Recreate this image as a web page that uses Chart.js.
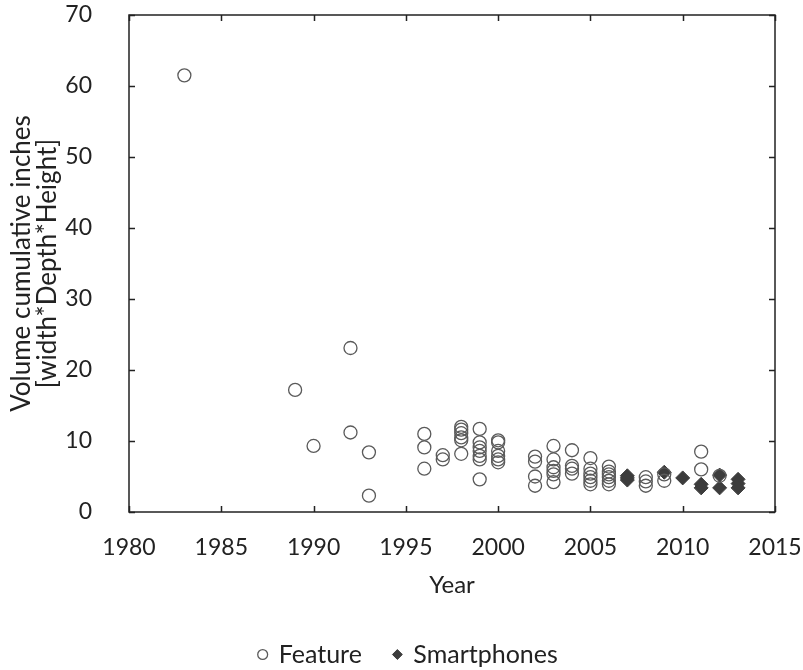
<!DOCTYPE html>
<html>
<head>
<meta charset="utf-8">
<script src="https://cdn.jsdelivr.net/npm/chart.js@4"></script>
<style>
  html, body { margin: 0; padding: 0; background: #fff; }
  #wrap { width: 803px; height: 670px; }
</style>
</head>
<body>
<div id="wrap"><canvas id="chart" width="803" height="670"></canvas></div>
<script>
// values
const featureYears = [1983, 1989, 1990, 1992, 1992, 1993, 1993,
  1996, 1996, 1996, 1997, 1997,
  1998, 1998, 1998, 1998, 1998, 1998,
  1999, 1999, 1999, 1999, 1999, 1999, 1999,
  2000, 2000, 2000, 2000, 2000, 2000,
  2002, 2002, 2002, 2002,
  2003, 2003, 2003, 2003, 2003, 2003,
  2004, 2004, 2004, 2004,
  2005, 2005, 2005, 2005, 2005, 2005,
  2006, 2006, 2006, 2006, 2006, 2006,
  2008, 2008, 2008, 2009, 2009, 2011, 2011, 2012];
const featureVolumes = [61.5, 17.2, 9.3, 23.1, 11.2, 8.4, 2.3,
  11.0, 9.1, 6.1, 8.0, 7.4,
  12.0, 11.6, 11.1, 10.5, 10.1, 8.2,
  11.7, 9.8, 9.1, 8.6, 7.9, 7.4, 4.6,
  10.1, 9.8, 8.6, 7.9, 7.4, 7.0,
  7.8, 7.1, 5.0, 3.7,
  9.3, 7.4, 6.3, 5.8, 5.3, 4.2,
  8.7, 6.5, 6.1, 5.4,
  7.6, 6.1, 5.4, 4.9, 4.4, 3.9,
  6.4, 5.7, 5.3, 4.9, 4.4, 3.9,
  4.9, 4.3, 3.7, 5.3, 4.4, 8.5, 6.0, 5.1];

const smartYears = [2007, 2007, 2007, 2009, 2010, 2011, 2011, 2012, 2012, 2013, 2013, 2013];
const smartVolumes = [5.1, 4.8, 4.5, 5.6, 4.8, 3.9, 3.4, 5.2, 3.4, 4.6, 4.0, 3.4];

const xTicks = [1980, 1985, 1990, 1995, 2000, 2005, 2010, 2015];
const yTicks = [0, 10, 20, 30, 40, 50, 60, 70];

const toPoints = (xs, ys) => xs.map((x, i) => ({ x: x, y: ys[i] }));

// box around the plot with short ticks pointing inward on all four sides
const boxTicks = {
  id: 'boxTicks',
  afterDraw(chart) {
    const { ctx, chartArea: a, scales } = chart;
    const len = 6;
    ctx.save();
    ctx.strokeStyle = '#222';
    ctx.lineWidth = 1.5;
    ctx.strokeRect(a.left, a.top, a.right - a.left, a.bottom - a.top);
    ctx.beginPath();
    xTicks.forEach(v => {
      const px = Math.round(scales.x.getPixelForValue(v)) + 0.5;
      ctx.moveTo(px, a.bottom); ctx.lineTo(px, a.bottom - len);
      ctx.moveTo(px, a.top); ctx.lineTo(px, a.top + len);
    });
    yTicks.forEach(v => {
      const py = Math.round(scales.y.getPixelForValue(v)) + 0.5;
      ctx.moveTo(a.left, py); ctx.lineTo(a.left + len, py);
      ctx.moveTo(a.right, py); ctx.lineTo(a.right - len, py);
    });
    ctx.stroke();
    ctx.restore();
  }
};

Chart.defaults.font.family = 'Lato, "Open Sans", sans-serif';
Chart.defaults.color = '#222';

new Chart(document.getElementById('chart'), {
  type: 'scatter',
  data: {
    datasets: [{
      label: 'Feature',
      data: toPoints(featureYears, featureVolumes),
      pointStyle: 'circle',
      pointRadius: 6.5,
      borderWidth: 1.3,
      borderColor: '#5a5a5a',
      backgroundColor: 'rgba(255,255,255,0)'
    }, {
      label: 'Smartphones',
      data: toPoints(smartYears, smartVolumes),
      pointStyle: 'rectRot',
      pointRadius: 7,
      borderWidth: 1,
      borderColor: '#3c3c3c',
      backgroundColor: '#3c3c3c'
    }]
  },
  options: {
    responsive: false,
    animation: false,
    layout: { padding: { top: 15, right: 0, left: 14, bottom: -7 } },
    plugins: {
      tooltip: { enabled: false },
      legend: {
        position: 'bottom',
        labels: {
          usePointStyle: true,
          boxWidth: 7,
          boxHeight: 7,
          padding: 32,
          font: { size: 25 },
          color: '#222'
        }
      }
    },
    scales: {
      x: {
        type: 'linear',
        min: 1980,
        max: 2015,
        afterBuildTicks: s => { s.ticks = xTicks.map(v => ({ value: v })); },
        grid: { display: false, drawTicks: false },
        border: { display: false },
        ticks: { padding: 22, font: { size: 23 }, color: '#222', callback: v => String(v) },
        title: { display: true, text: 'Year', font: { size: 24 }, color: '#222', padding: { top: 0, bottom: 10 } },
        afterFit: s => {
          s.height = 98;
          s.paddingLeft = 0;
          s.paddingRight = 28;
        }
      },
      y: {
        min: 0,
        max: 70,
        afterBuildTicks: s => { s.ticks = yTicks.map(v => ({ value: v })); },
        grid: { display: false, drawTicks: false },
        border: { display: false },
        ticks: { padding: 37, font: { size: 23 }, color: '#222' },
        title: {
          display: true,
          text: ['Volume cumulative inches', '[width*Depth*Height]'],
          font: { size: 26, lineHeight: 1.0 },
          color: '#222',
          padding: { top: -5, bottom: 0 }
        },
        afterFit: s => {
          s.width = 115;
          // keep the label padding from pushing the plot top down
          s.paddingTop = 10;
          s.paddingBottom = 10;
        }
      }
    }
  },
  plugins: [boxTicks]
});
</script>
</body>
</html>
